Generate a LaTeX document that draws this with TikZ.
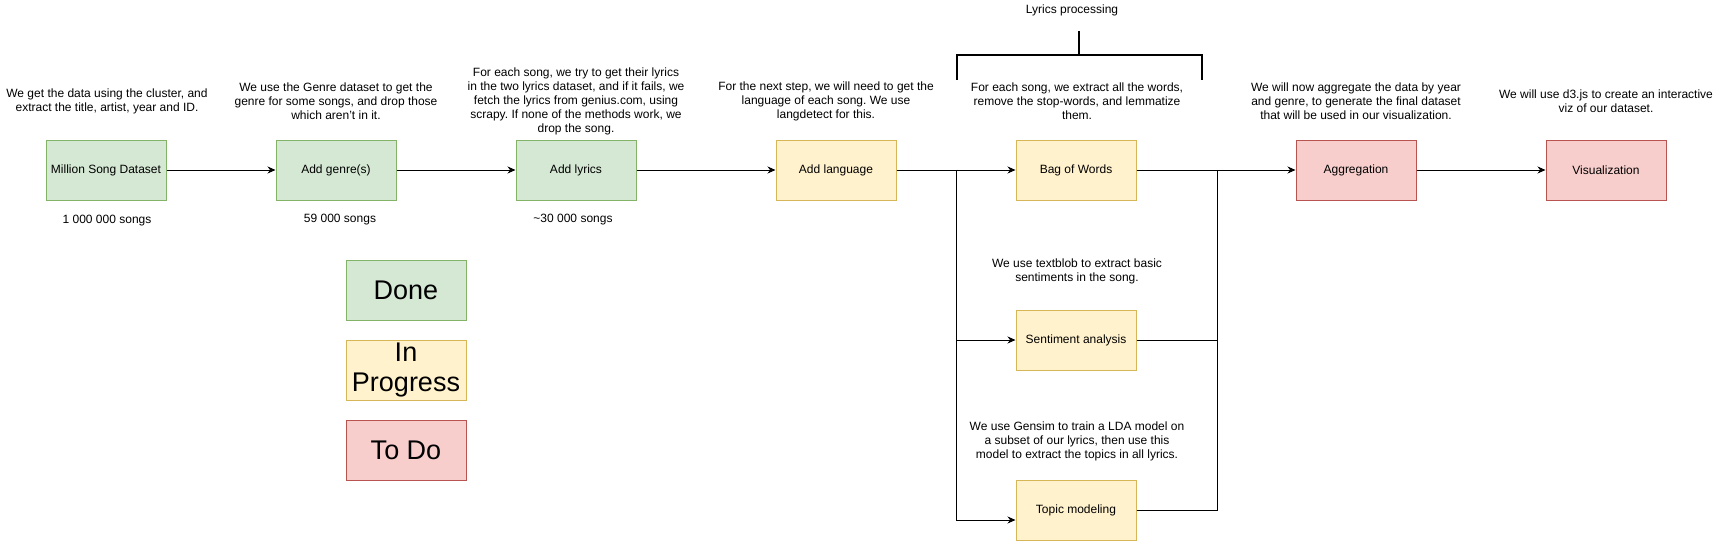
\documentclass[tikz,border=0pt]{standalone}
\usepackage{fontspec}
\setmainfont{Liberation Sans}
\usetikzlibrary{arrows.meta}
\frenchspacing

\definecolor{donefill}{HTML}{D5E8D4}
\definecolor{donedraw}{HTML}{82B366}
\definecolor{progfill}{HTML}{FFF2CC}
\definecolor{progdraw}{HTML}{D6B656}
\definecolor{todofill}{HTML}{F8CECC}
\definecolor{tododraw}{HTML}{B85450}

\tikzset{
  stage/.style={rectangle, minimum width=120pt, minimum height=60pt, inner sep=0pt,
    font=\fontsize{12}{14}\selectfont, line width=1pt},
  done/.style={stage, fill=donefill, draw=donedraw},
  inprog/.style={stage, fill=progfill, draw=progdraw},
  todo/.style={stage, fill=todofill, draw=tododraw},
  legend/.style={font=\fontsize{27}{30}\selectfont, align=center},
  note/.style={align=center, inner sep=0pt, font=\fontsize{12}{14}\selectfont},
  flow/.style={-{Stealth[length=8pt,width=7pt]}, line width=1pt},
  wire/.style={line width=1pt},
}

\begin{document}
\begin{tikzpicture}[x=1pt,y=-1pt]
	\useasboundingbox (0,0) rectangle (1717,551);

	%% Main pipeline (x, y in pixels of the drawing)
	\node[done] (msd) at (106,170) {Million Song Dataset};
	\node[done] (genre) at (336,170) {Add genre(s)};
	\node[done] (lyrics) at (576,170) {Add lyrics};
	\node[inprog] (lang) at (836,170) {Add language};
	\node[inprog] (bow) at (1076,170) {Bag of Words};
	\node[inprog] (senti) at (1076,340) {Sentiment analysis};
	\node[inprog] (topic) at (1076,510) {Topic modeling};
	\node[todo] (agg) at (1356,170) {Aggregation};
	\node[todo] (viz) at (1606,170) {Visualization};

	%% Legend
	\node[done, legend] (kdone) at (406,290) {Done};
	\node[inprog, legend] (kprog) at (406,370) {In\\Progress};
	\node[todo, legend] (ktodo) at (406,450) {To Do};

	%% Descriptions
	\node[note] (dmsd) at (107,101) {We get the data using the cluster, and\\extract the title, artist, year and ID.};
	\node[note] (dgenre) at (336,101) {We use the Genre dataset to get the\\genre for some songs, and drop those\\which aren't in it.};
	\node[note] (dlyrics) at (576,101) {For each song, we try to get their lyrics\\in the two lyrics dataset, and if it fails, we\\fetch the lyrics from genius.com, using\\scrapy. If none of the methods work, we\\drop the song.};
	\node[note] (dlang) at (826,101) {For the next step, we will need to get the\\language of each song. We use\\langdetect for this.};
	\node[note] (dbow) at (1077,101) {For each song, we extract all the words,\\remove the stop-words, and lemmatize\\them.};
	\node[note] (dsenti) at (1077,271) {We use textblob to extract basic\\sentiments in the song.};
	\node[note] (dtopic) at (1077,441) {We use Gensim to train a LDA model on\\a subset of our lyrics, then use this\\model to extract the topics in all lyrics.};
	\node[note] (dagg) at (1356,101) {We will now aggregate the data by year\\and genre, to generate the final dataset\\that will be used in our visualization.};
	\node[note] (dviz) at (1606,101) {We will use d3.js to create an interactive\\viz of our dataset.};

	%% Song counts
	\node[note] (cmsd) at (107,221) {1 000 000 songs};
	\node[note] (cgenre) at (340,220) {59 000 songs};
	\node[note] (clyrics) at (573,220) {\textasciitilde30 000 songs};

	%% Lyrics processing bracket
	\node[note] (lproc) at (1072,10) {Lyrics processing};
	\draw[line width=2pt] (957,80) -- (957,55) -- (1202,55) -- (1202,80);
	\draw[line width=2pt] (1079,31) -- (1079,55);

	%% Split and merge points
	\coordinate (split) at (956,170);
	\coordinate (merge) at (1217,170);

	%% Arrows
	\draw[flow] (msd) -- (genre);
	\draw[flow] (genre) -- (lyrics);
	\draw[flow] (lyrics) -- (lang);
	\draw[flow] (lang) -- (bow);
	\draw[flow] (split) |- (senti);
	\draw[flow] (split) |- ([yshift=-10pt]topic.west);
	\draw[wire] (bow) -- (merge);
	\draw[wire] (senti) -| (merge);
	\draw[wire] (topic) -| (merge);
	\draw[flow] (merge) -- (agg);
	\draw[flow] (agg) -- (viz);
\end{tikzpicture}
\end{document}
